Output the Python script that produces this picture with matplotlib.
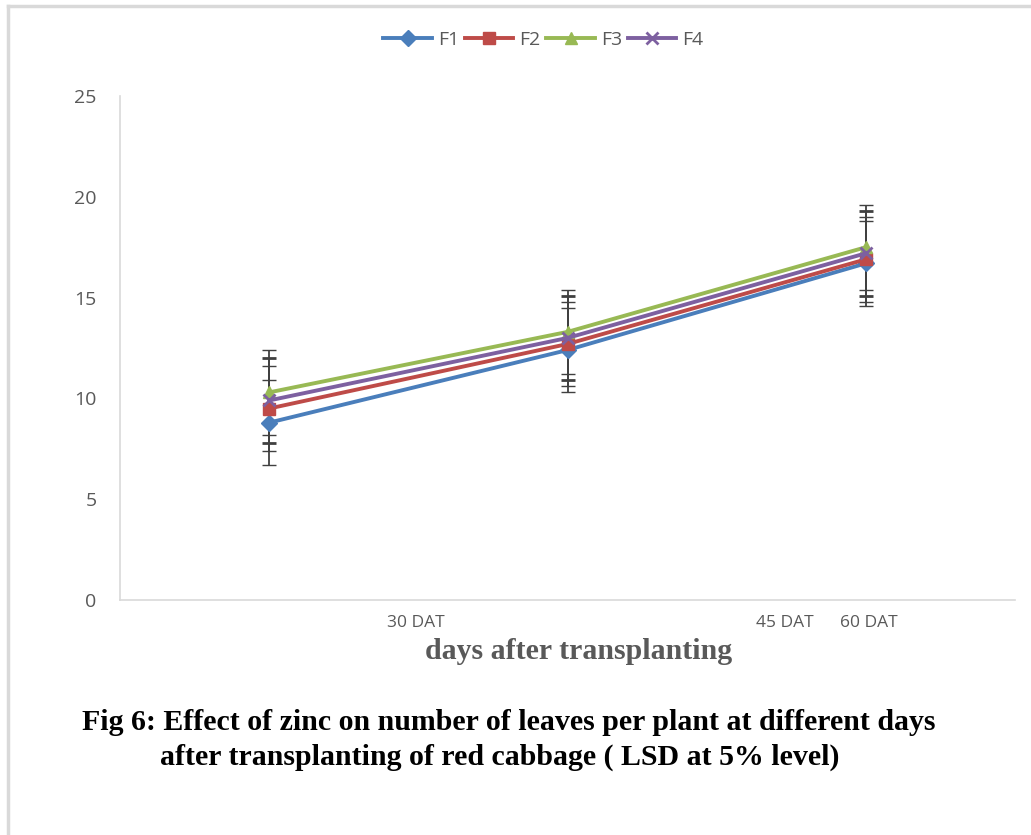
import matplotlib

matplotlib.use("Agg")

import matplotlib.pyplot as plt
from matplotlib.lines import Line2D

# data
stages = [0, 1, 2]
f1 = [8.8, 12.4, 16.7]
f2 = [9.5, 12.7, 16.9]
f3 = [10.3, 13.3, 17.5]
f4 = [9.9, 13.0, 17.2]
lsd = [2.1, 2.1, 2.1]
series_names = ["F1", "F2", "F3", "F4"]
tick_pos = [0.49, 1.73, 2.01]
tick_labels = ["30 DAT", "45 DAT", "60 DAT"]

colors = ["#4a7ebb", "#be4b48", "#98b954", "#7d60a0"]
markers = ["D", "s", "^", "x"]

fig = plt.figure(figsize=(10.31, 8.35), dpi=100)
ax = fig.add_axes([0.1164, 0.2814, 0.8681, 0.6036])

for vals, name, c, m in zip([f1, f2, f3, f4], series_names, colors, markers):
    ax.errorbar(stages, vals, yerr=lsd, color=c, marker=m, markersize=8.5,
                linewidth=2.8, markeredgewidth=2 if m == "x" else 1,
                ecolor="#404040", elinewidth=1.3, capsize=5, capthick=1.3,
                label=name, zorder=3)

ax.set_xlim(-0.5, 2.5)
ax.set_ylim(0, 25)
ax.set_yticks([0, 5, 10, 15, 20, 25])
ax.set_xticks(tick_pos)
ax.set_xticklabels(tick_labels, fontsize=12.5, color="#595959", family="Open Sans")
ax.tick_params(axis="x", length=0, pad=11)
ax.tick_params(axis="y", length=0, pad=17, labelsize=14, labelcolor="#595959")
for lbl in ax.get_yticklabels():
    lbl.set_family("Open Sans")

for side in ["top", "right"]:
    ax.spines[side].set_visible(False)
for side in ["left", "bottom"]:
    ax.spines[side].set_color("#d9d9d9")
    ax.spines[side].set_linewidth(1.2)

handles = [Line2D([0], [0], color=c, marker=m, markersize=8.5, linewidth=2.8,
                  markeredgewidth=2 if m == "x" else 1)
           for c, m in zip(colors, markers)]
fig.legend(handles, series_names, loc="center", bbox_to_anchor=(0.527, 0.952),
           ncol=4, frameon=False, handlelength=2.5, columnspacing=0.3,
           handletextpad=0.3, prop={"family": "Open Sans", "size": 14},
           labelcolor="#595959")

fig.text(0.561, 0.22, "days after transplanting", ha="center", va="center",
         family="Liberation Serif", weight="bold", fontsize=21.5, color="#595959")
fig.text(0.08, 0.135, "Fig 6: Effect of zinc on number of leaves per plant at different days",
         ha="left", va="center", family="Liberation Serif", weight="bold",
         fontsize=21.5, color="black")
fig.text(0.155, 0.093, "after transplanting of red cabbage ( LSD at 5% level)",
         ha="left", va="center", family="Liberation Serif", weight="bold",
         fontsize=21.5, color="black")

# light frame of the original figure box
fig.add_artist(Line2D([0.008, 0.008], [0, 0.993], color="#d9d9d9", linewidth=2.5,
                      transform=fig.transFigure))
fig.add_artist(Line2D([0.008, 1], [0.993, 0.993], color="#d9d9d9", linewidth=2.5,
                      transform=fig.transFigure))

fig.savefig("out.png", dpi=100)
